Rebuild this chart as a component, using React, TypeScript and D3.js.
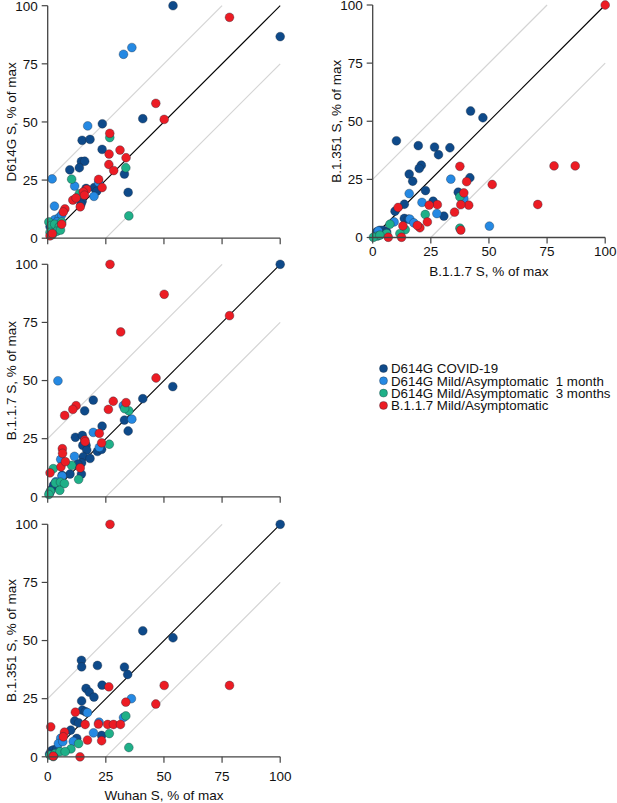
import * as d3 from 'd3'

type Pt = [number, number]

const groups = [
  { key: 'covid', label: 'D614G COVID-19', color: '#0e4a8a' },
  { key: 'mild1', label: 'D614G Mild/Asymptomatic  1 month', color: '#2589e3' },
  { key: 'mild3', label: 'D614G Mild/Asymptomatic  3 months', color: '#1fb088' },
  { key: 'b117', label: 'B.1.1.7 Mild/Asymptomatic', color: '#ec1c24' },
]

const ticks = [0, 25, 50, 75, 100]

// Wuhan S (x) vs D614G S (y)
const d614gCovid: Pt[] = [
  [53.9, 100], [100, 86.7], [40.9, 51.4], [23.5, 49.2], [14.8, 42.1], [18.2, 42.5], [23.4, 38.2],
  [14.5, 33.0], [15.9, 33.1], [13.6, 30.3], [9.5, 29.4], [33.0, 27.6], [34.6, 19.7], [16.5, 21.4],
  [19.9, 21.7], [21.1, 20.2], [14.8, 15.9], [14.3, 14.6], [1, 5], [2, 6], [3, 7], [4, 8],
]
const d614gMild1: Pt[] = [
  [32.6, 79.1], [36.2, 82.0], [17.2, 48.3], [1.9, 25.5], [11.6, 22.4], [21.9, 24.0], [19.9, 18.0],
  [2.9, 13.8], [3, 8], [5, 9], [6, 10], [4, 7],
]
const d614gMild3: Pt[] = [
  [26.7, 43.3], [10.3, 25.4], [13.6, 19.1], [33.6, 30.3], [34.9, 9.6], [0.5, 7], [1.5, 5.5], [3, 6],
  [5, 5], [6, 7], [2, 1.5], [1, 2.5], [4, 3], [5.5, 3.5],
]
const d614gB117: Pt[] = [
  [78.2, 95.0], [46.5, 58.0], [50.1, 51.1], [26.7, 45.1], [26.4, 36.2], [31.1, 37.9], [33.7, 34.6],
  [26.3, 31.7], [28.4, 29.1], [21.9, 25.3], [23.4, 21.8], [16.8, 21.0], [15.3, 19.9], [15.8, 18.5],
  [10.8, 16.4], [12.2, 17.3], [14.0, 13.5], [7.4, 12.6], [6.7, 11.3], [1, 1], [2, 2], [6, 6],
]

// B.1.1.7 S (x) vs B.1.351 S (y)
const b1351Covid: Pt[] = [
  [42.1, 54.4], [47.4, 51.5], [10.2, 41.6], [19.6, 39.5], [26.6, 38.9], [33.2, 38.6], [28.3, 35.6],
  [20.9, 31.1], [20.0, 29.7], [15.7, 27.3], [17.2, 24.2], [22.7, 20.2], [41.8, 25.7], [36.8, 19.5],
  [26.0, 15.6], [30.6, 9.2], [13.6, 14.3], [9.6, 11.3], [13.6, 8.2], [15.3, 7.9], [1.7, 2.4],
  [3.1, 3.1], [4.6, 3.1], [6.0, 2.4],
]
const b1351Mild1: Pt[] = [
  [33.6, 25.1], [15.7, 18.9], [21.2, 15.1], [27.6, 10.3], [39.2, 16.8], [50.2, 4.9], [16.0, 7.9],
  [17.7, 6.3], [9.2, 6.7], [2.4, 2.8],
]
const b1351Mild3: Pt[] = [
  [37.5, 17.5], [22.6, 9.9], [37.5, 4.0], [7.4, 5.7], [14.0, 3.4], [11.7, 1.7], [6.0, 1.7],
  [2.0, 0.6], [0.3, 0.1], [3.1, 1.0],
]
const b1351B117: Pt[] = [
  [100, 100], [78.0, 30.8], [87.1, 30.8], [71.0, 14.2], [51.4, 22.8], [37.5, 30.6], [40.4, 24.0],
  [39.2, 19.2], [41.3, 13.9], [37.9, 14.1], [35.2, 10.9], [27.8, 14.1], [24.3, 13.9], [23.5, 6.7],
  [20.3, 4.2], [19.2, 5.2], [10.9, 12.9], [13.0, 5.0], [12.4, 0.1], [6.7, 0.1], [37.9, 3.2],
]

// Wuhan S (x) vs B.1.1.7 S (y)
const b117Covid: Pt[] = [
  [100, 100], [53.8, 47.4], [40.9, 42.2], [19.6, 41.6], [15.9, 37.0], [33.0, 33.0], [34.6, 28.3],
  [23.4, 30.4], [11.9, 25.6], [14.9, 26.4], [16.5, 22.1], [15.1, 22.1], [16.8, 20.1], [21.4, 19.5],
  [23.2, 20.4], [15.3, 17.2], [18.2, 16.5], [14.6, 14.6], [12.9, 14.1], [14.5, 9.8], [9.6, 9.8],
  [6.2, 9.2], [1.5, 3], [2.5, 5], [0.8, 1.5],
]
const b117Mild1: Pt[] = [
  [4.4, 49.9], [32.5, 39.2], [36.2, 33.4], [19.6, 27.7], [22.2, 21.3], [11.5, 17.4], [5.6, 16.1],
  [6.2, 8.9], [3.5, 6.5],
]
const b117Mild3: Pt[] = [
  [34.9, 37.0], [33.1, 37.9], [26.5, 22.6], [2.4, 12.1], [10.3, 13.5], [13.3, 7.5], [3.3, 6.0],
  [5.5, 6.3], [7.2, 5.7], [5.2, 2.8], [1.2, 2.4], [0.5, 1.0],
]
const b117B117: Pt[] = [
  [26.8, 100], [50.1, 87.1], [31.4, 70.9], [78.2, 77.9], [46.6, 51.1], [28.2, 41.1], [26.1, 37.6],
  [33.7, 40.5], [12.2, 39.2], [10.8, 37.6], [7.3, 35.0], [15.9, 24.4], [16.1, 23.7], [22.2, 27.3],
  [23.2, 23.2], [6.3, 20.7], [6.4, 18.7], [5.7, 12.9], [7.6, 15.1], [14.0, 12.4], [1.0, 10.3],
]

// Wuhan S (x) vs B.1.351 S (y)
const w1351Covid: Pt[] = [
  [100, 100], [40.9, 54.2], [53.9, 51.2], [14.5, 41.5], [14.6, 38.7], [21.4, 39.3], [33.0, 38.6],
  [34.4, 35.4], [23.4, 30.8], [16.5, 29.4], [17.9, 27.8], [19.9, 25.7], [14.6, 24.0], [14.9, 20.1],
  [16.2, 19.4], [11.6, 15.4], [13.3, 14.6], [9.9, 11.5], [12.5, 7.9], [23.2, 9.2], [1.5, 2.5],
  [2.5, 3], [4, 3.5], [0.8, 1.2],
]
const w1351Mild1: Pt[] = [
  [36.0, 25.0], [17.1, 19.0], [22.1, 14.9], [19.7, 10.3], [32.6, 16.9], [5.6, 8.0], [4.6, 5.7],
  [11.0, 6.6], [6.5, 6.5],
]
const w1351Mild3: Pt[] = [
  [33.6, 17.6], [26.5, 10.0], [34.9, 4.0], [10.0, 3.4], [13.3, 5.7], [1.0, 0.7], [3.2, 1.4],
  [5.3, 2.2], [7.5, 2.2], [2.4, 0.1],
]
const w1351B117: Pt[] = [
  [26.8, 100], [50.1, 30.7], [78.2, 30.7], [26.3, 30.1], [33.6, 23.5], [46.5, 22.7], [11.9, 19.2],
  [16.1, 13.9], [21.8, 14.1], [25.8, 13.9], [28.3, 13.9], [31.3, 13.9], [23.2, 6.9], [17.1, 7.2],
  [7.2, 10.6], [6.7, 8.6], [1.3, 12.9], [13.9, 0], [2.4, 0.3],
]

const panels = [
  {
    left: 47.7, top: 5.7, size: 232.5, yLabel: 'D614G S, % of max', xLabel: '', xTickLabels: false,
    tickGap: 0, labelGap: 0,
    series: [d614gCovid, d614gMild1, d614gMild3, d614gB117],
  },
  {
    left: 372.7, top: 5, size: 232.5, yLabel: 'B.1.351 S, % of max', xLabel: 'B.1.1.7 S, % of max', xTickLabels: true,
    tickGap: 18, labelGap: 38.5,
    series: [b1351Covid, b1351Mild1, b1351Mild3, b1351B117],
  },
  {
    left: 47.7, top: 264.3, size: 232.5, yLabel: 'B.1.1.7 S, % of max', xLabel: '', xTickLabels: false,
    tickGap: 0, labelGap: 0,
    series: [b117Covid, b117Mild1, b117Mild3, b117B117],
  },
  {
    left: 47.7, top: 524.3, size: 232.5, yLabel: 'B.1.351 S, % of max', xLabel: 'Wuhan S, % of max', xTickLabels: true,
    tickGap: 24, labelGap: 43.5,
    series: [w1351Covid, w1351Mild1, w1351Mild3, w1351B117],
  },
]

const font = 'Liberation Sans, Arial, sans-serif'

function Panel({ panel }: { panel: (typeof panels)[number] }) {
  const x = d3.scaleLinear().domain([0, 100]).range([panel.left, panel.left + panel.size])
  const y = d3.scaleLinear().domain([0, 100]).range([panel.top + panel.size, panel.top])
  const x0 = x(0)
  const y0 = y(0)
  const line = d3
    .line<Pt>()
    .x((d) => x(d[0]))
    .y((d) => y(d[1]))
  const refLines: Array<{ pts: Pt[]; color: string }> = [
    { pts: [[0, 25], [75, 100]], color: '#d4d4d4' },
    { pts: [[25, 0], [100, 75]], color: '#d4d4d4' },
    { pts: [[0, 0], [100, 100]], color: '#000' },
  ]

  return (
    <g>
      {refLines.map((ref, i) => (
        <path key={i} d={line(ref.pts) ?? ''} stroke={ref.color} strokeWidth={ref.color === '#000' ? 1.1 : 1.2} fill="none" />
      ))}

      {panel.series.map((pts, gi) =>
        pts.map((p, i) => (
          <circle
            key={`${gi}-${i}`}
            cx={x(p[0])}
            cy={y(p[1])}
            r={4.4}
            fill={groups[gi].color}
            stroke="#1d2a3a"
            strokeOpacity={0.6}
            strokeWidth={0.6}
          />
        )),
      )}

      <line x1={x0} x2={x0} y1={y0} y2={y(100)} stroke="#444" strokeWidth={1.3} />
      <line x1={x0} x2={x(100)} y1={y0} y2={y0} stroke="#444" strokeWidth={1.3} />

      {ticks.map((t) => (
        <g key={`y${t}`}>
          <line x1={x0 - 6} x2={x0} y1={y(t)} y2={y(t)} stroke="#444" strokeWidth={1.2} />
          <text x={x0 - 10} y={y(t) + 4.8} textAnchor="end" fontSize="13.5" fontFamily={font} fill="#111">
            {t}
          </text>
        </g>
      ))}
      {ticks.map((t) => (
        <g key={`x${t}`}>
          <line x1={x(t)} x2={x(t)} y1={y0} y2={y0 + 6} stroke="#444" strokeWidth={1.2} />
          {panel.xTickLabels && (
            <text x={x(t)} y={y0 + panel.tickGap} textAnchor="middle" fontSize="13.5" fontFamily={font} fill="#111">
              {t}
            </text>
          )}
        </g>
      ))}

      <text
        transform={`translate(${x0 - 31.5},${(y0 + y(100)) / 2}) rotate(-90)`}
        textAnchor="middle"
        fontSize="13.5"
        fontFamily={font}
        fill="#111"
      >
        {panel.yLabel}
      </text>
      {panel.xLabel && (
        <text x={(x0 + x(100)) / 2} y={y0 + panel.labelGap} textAnchor="middle" fontSize="13.5" fontFamily={font} fill="#111">
          {panel.xLabel}
        </text>
      )}
    </g>
  )
}

export default function App() {
  return (
    <svg width={617} height={803} style={{ position: 'absolute', left: 0, top: 0, background: '#fff' }}>
      {panels.map((panel, i) => (
        <Panel key={i} panel={panel} />
      ))}
      <g>
        {groups.map((g, i) => (
          <g key={g.key} transform={`translate(383.5,${368.5 + i * 12.3})`}>
            <circle r={4} fill={g.color} stroke="#1d2a3a" strokeOpacity={0.6} strokeWidth={0.6} />
            <text x={7.5} y={4.7} fontSize="13.3" fontFamily={font} fill="#111" style={{ whiteSpace: 'pre' }}>
              {g.label}
            </text>
          </g>
        ))}
      </g>
    </svg>
  )
}
